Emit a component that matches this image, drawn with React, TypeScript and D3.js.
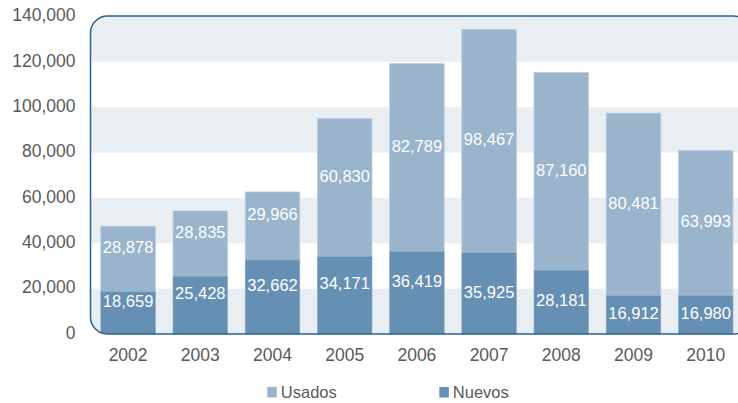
import React from "react";
import * as d3 from "d3";

const years = ["2002", "2003", "2004", "2005", "2006", "2007", "2008", "2009", "2010"];
const nuevos = [18659, 25428, 32662, 34171, 36419, 35925, 28181, 16912, 16980];
const usados = [28878, 28835, 29966, 60830, 82789, 98467, 87160, 80481, 63993];
const yTicks = [0, 20000, 40000, 60000, 80000, 100000, 120000, 140000];
const seriesNames = ["Usados", "Nuevos"];

const W = 738;
const H = 403;
const FONT = "'Liberation Sans', Arial, Helvetica, sans-serif";
const C_USADOS = "#99b4cb";
const C_NUEVOS = "#658fb3";
const C_BAND = "#e9eef3";
const C_FRAME = "#2c5f90";
const C_TEXT = "#595959";

export default function App() {
  const y = d3.scaleLinear().domain([0, 140000]).range([334, 16.5]);
  const x = d3
    .scaleBand<string>()
    .domain(years)
    .range([92, 741.8])
    .paddingInner(0.244)
    .paddingOuter(0.122);
  const fmt = d3.format(",");
  const frame = { x: 90.5, y: 16, w: 660, h: 318, r: 17 };
  const bands = yTicks.slice(0, -1).filter((_, i) => i % 2 === 0);
  const lblFs = 16.5;
  const axFs = 17.5;

  return (
    <svg width={W} height={H} style={{ position: "absolute", left: 0, top: 0 }} fontFamily={FONT}>
      <defs>
        <clipPath id="frameClip">
          <rect x={frame.x} y={frame.y} width={frame.w} height={frame.h} rx={frame.r} />
        </clipPath>
      </defs>
      <rect width={W} height={H} fill="#fff" />
      <g clipPath="url(#frameClip)">
        <rect x={frame.x} y={frame.y} width={frame.w} height={frame.h} fill="#fff" />
        {bands.map((v) => (
          <rect
            key={v}
            x={frame.x}
            y={y(v + 20000)}
            width={frame.w}
            height={y(v) - y(v + 20000)}
            fill={C_BAND}
          />
        ))}
        {years.map((yr, i) => {
          const x0 = x(yr)!;
          const bw = x.bandwidth();
          const n = nuevos[i];
          const u = usados[i];
          return (
            <g key={yr}>
              <rect x={x0} y={y(n + u)} width={bw} height={y(n) - y(n + u)} fill={C_USADOS} stroke="#bccee0" strokeWidth={0.8} />
              <rect x={x0} y={y(n)} width={bw} height={y(0) - y(n)} fill={C_NUEVOS} stroke="#89a9c6" strokeWidth={0.6} />
            </g>
          );
        })}
        {years.map((yr, i) => {
          const cx = x(yr)! + x.bandwidth() / 2;
          const n = nuevos[i];
          const u = usados[i];
          const shift = i < 5 ? -11.7 : -1.5;
          const cN = (y(0) + y(n)) / 2 + shift;
          const cU = (y(n) + y(n + u)) / 2 + shift;
          return (
            <g key={"l" + yr} fill="#fff" fontSize={lblFs} textAnchor="middle">
              <text x={cx} y={cU + lblFs * 0.36}>{fmt(u)}</text>
              <text x={cx} y={cN + lblFs * 0.36}>{fmt(n)}</text>
            </g>
          );
        })}
      </g>
      <rect
        x={frame.x}
        y={frame.y}
        width={frame.w}
        height={frame.h}
        rx={frame.r}
        fill="none"
        stroke={C_FRAME}
        strokeWidth={1.5}
      />
      {yTicks.map((v) => (
        <text
          key={v}
          x={75.5}
          y={y(v) - 1.5 + axFs * 0.36}
          textAnchor="end"
          fontSize={axFs}
          fill={C_TEXT}
        >
          {fmt(v)}
        </text>
      ))}
      {years.map((yr) => (
        <text
          key={"x" + yr}
          x={x(yr)! + x.bandwidth() / 2}
          y={354.7 + axFs * 0.36}
          textAnchor="middle"
          fontSize={axFs}
          fill={C_TEXT}
        >
          {yr}
        </text>
      ))}
      {seriesNames.map((s, i) => {
        const lx = i === 0 ? 267.3 : 439.3;
        return (
          <g key={s}>
            <rect x={lx} y={387} width={9.5} height={10.5} fill={i === 0 ? C_USADOS : C_NUEVOS} />
            <text x={lx + 13.5} y={392.3 + 16.5 * 0.36} fontSize={16.5} fill={C_TEXT}>
              {s}
            </text>
          </g>
        );
      })}
    </svg>
  );
}
